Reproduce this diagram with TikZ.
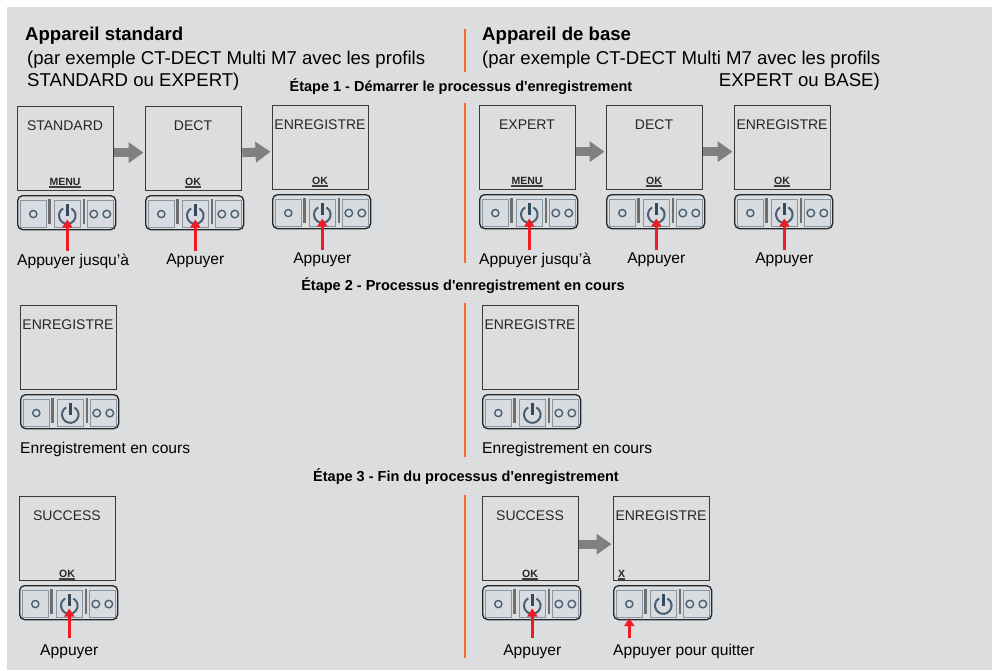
\documentclass[tikz,border=0pt]{standalone}
\usepackage{fontspec}
\setmainfont{Liberation Sans}
\usetikzlibrary{arrows.meta,calc}
\definecolor{bg}{HTML}{DCDDDF}
\definecolor{frame}{HTML}{3A3A3A}
\definecolor{btnborder}{HTML}{8796A3}
\definecolor{btnfill}{HTML}{D8DCE0}
\definecolor{sepcol}{HTML}{6E6E6E}
\definecolor{icon}{HTML}{4A6072}
\definecolor{iconbar}{HTML}{344B5E}
\definecolor{redarr}{HTML}{ED1C24}
\definecolor{grayarr}{HTML}{808080}
\definecolor{orangeline}{HTML}{F26B2A}
\tikzset{
 screenbox/.style={draw=frame, line width=1.3pt, fill=bg, minimum width=96pt, minimum height=84pt, inner sep=0pt, anchor=north west},
 barbox/.style={draw=black!85, line width=1.3pt, fill=bg, rounded corners=5pt, minimum width=98pt, minimum height=34pt, inner sep=0pt, anchor=north west},
 btnbox/.style={draw=btnborder, line width=1.1pt, fill=btnfill, minimum width=26.5pt, minimum height=27pt, inner sep=0pt, anchor=north west},
 scrtext/.style={font=\fontsize{14}{16}\selectfont, text=black!85, inner sep=0pt, anchor=base},
 keytext/.style={font=\fontsize{10.5}{12}\selectfont\bfseries, text=black!85, inner sep=0pt, anchor=base},
 lbl/.style={font=\fontsize{15.6}{18}\selectfont, inner sep=0pt, anchor=base},
 lblw/.style={lbl, anchor=base west},
 titlebold/.style={font=\fontsize{18.6}{22}\selectfont\bfseries, inner sep=0pt, anchor=base west},
 subtitle/.style={font=\fontsize{18.6}{22}\selectfont, inner sep=0pt, anchor=base west},
 steptitle/.style={font=\fontsize{14.5}{17}\selectfont\bfseries, inner sep=0pt, anchor=base},
 redarrow/.style={draw=redarr, line width=2.8pt, -{Triangle[length=8pt,width=10pt]}},
 grayarrow/.style={draw=grayarr, line width=9pt, -{Triangle[length=15pt,width=20pt]}, shorten >=1.5pt},
 orangesep/.style={draw=orangeline, line width=2pt},
}
\newcommand\device[4]{%
  \node[screenbox] (#1s) at (#2,#3) {};
  \node[scrtext] (#1t) at ({#2+48},{#3+24}) {#4};
  \node[barbox] (#1b) at (#2,{#3+89}) {};
  \node[btnbox] (#1l) at ({#2+2.5},{#3+94}) {};
  \node[btnbox] (#1m) at ({#2+36.5},{#3+94}) {};
  \node[btnbox] (#1r) at ({#2+69.5},{#3+94}) {};
  \fill[sepcol] ({#2+31},{#3+93}) rectangle ({#2+34},{#3+118});
  \fill[sepcol] ({#2+65.5},{#3+93}) rectangle ({#2+68},{#3+118});
  \draw[icon, line width=1.4pt] (#1l.center) circle (3.6pt);
  \draw[icon, line width=1.4pt] ([xshift=-6.5pt]#1r.center) circle (3.8pt);
  \draw[icon, line width=1.4pt] ([xshift=6.5pt]#1r.center) circle (3.8pt);
  \draw[icon, line width=2pt] ([yshift=-1.5pt]#1m.center) ++(120:8.3pt) arc[start angle=120, end angle=420, radius=8.3pt];
  \draw[iconbar, line width=3.2pt] ([yshift=-1.5pt]#1m.center) -- ([yshift=10.5pt]#1m.center);
}
\newcommand\softkey[4]{%
  \node[keytext] (#1) at (#2,#3) {#4};
  \draw[line width=1.5pt, black!75] ([yshift=-2pt]#1.base west) -- ([yshift=-2pt]#1.base east);
}
\begin{document}
\begin{tikzpicture}[x=1pt,y=-1pt]
\useasboundingbox (0,0) rectangle (992,670);
\fill[bg] (7,7) rectangle (992,670);
% headers
\node[titlebold] (h1) at (25,40.7) {Appareil standard};
\node[subtitle] (h1a) at (27,64.7) {(par exemple CT-DECT Multi M7 avec les profils};
\node[subtitle] (h1b) at (27,86) {STANDARD ou EXPERT)};
\node[titlebold] (h2) at (482,40.7) {Appareil de base};
\node[subtitle] (h2a) at (482,64.7) {(par exemple CT-DECT Multi M7 avec les profils};
\node[subtitle, anchor=base east] (h2b) at (880,86) {EXPERT ou BASE)};
\node[steptitle] (e1) at (461,91) {Étape 1 - Démarrer le processus d\textquotesingle enregistrement};
\node[steptitle] (e2) at (463,290) {Étape 2 - Processus d\textquotesingle enregistrement en cours};
\node[steptitle] (e3) at (466,481) {Étape 3 - Fin du processus d\textquotesingle enregistrement};
% separators
\draw[orangesep] (465,29) -- (465,72);
\draw[orangesep] (465,103) -- (465,263);
\draw[orangesep] (465,303) -- (465,457);
\draw[orangesep] (465,495) -- (465,658);
% step 1 left
\device{A1}{17}{106}{STANDARD}
\device{A2}{145}{106}{DECT}
\device{A3}{272}{105}{ENREGISTRE}
\softkey{A1k}{65}{185}{MENU}
\softkey{A2k}{193}{185}{OK}
\softkey{A3k}{320}{184}{OK}
\draw[grayarrow] ([yshift=-4pt]A1s.east) -- ([yshift=-4pt]A2s.west);
\draw[grayarrow] ([yshift=-4pt]A2s.east) -- ([yshift=-4pt]A3s.west);
% step 1 right
\device{B1}{479}{105}{EXPERT}
\device{B2}{606}{105}{DECT}
\device{B3}{734}{105}{ENREGISTRE}
\softkey{B1k}{527}{184}{MENU}
\softkey{B2k}{654}{184}{OK}
\softkey{B3k}{782}{184}{OK}
\draw[grayarrow] ([yshift=-4pt]B1s.east) -- ([yshift=-4pt]B2s.west);
\draw[grayarrow] ([yshift=-4pt]B2s.east) -- ([yshift=-4pt]B3s.west);
% red arrows step 1
\foreach \d in {A1,A2,A3,B1,B2,B3}{
  \coordinate (\d tail) at ([yshift=-36.5pt]\d m.center);
  \draw[redarrow] (\d tail) -- ([yshift=-5.5pt]\d m.center);
}
\node[lblw] (A1x) at ([yshift=-74pt]A1s.south west) {Appuyer jusqu’à};
\node[lbl] (A2x) at ([yshift=-50.5pt]A2m.center) {Appuyer};
\node[lbl] (A3x) at ([yshift=-50.5pt]A3m.center) {Appuyer};
\node[lblw] (B1x) at ([yshift=-74pt]B1s.south west) {Appuyer jusqu’à};
\node[lbl] (B2x) at ([yshift=-50.5pt]B2m.center) {Appuyer};
\node[lbl] (B3x) at ([yshift=-50.5pt]B3m.center) {Appuyer};
% step 2
\device{C1}{20}{305}{ENREGISTRE}
\device{D1}{482}{305}{ENREGISTRE}
\node[lblw] (C1x) at ([yshift=-63pt]C1s.south west) {Enregistrement en cours};
\node[lblw] (D1x) at ([yshift=-63pt]D1s.south west) {Enregistrement en cours};
% step 3
\device{E1}{19}{496}{SUCCESS}
\device{F1}{482}{496}{SUCCESS}
\device{F2}{613}{496}{ENREGISTRE}
\softkey{E1k}{67}{577}{OK}
\softkey{F1k}{530}{577}{OK}
\node[keytext, anchor=base west] (F2k) at (618,577) {X};
\draw[line width=1.5pt, black!75] ([yshift=-2pt]F2k.base west) -- ([yshift=-2pt]F2k.base east);
\draw[grayarrow] ([yshift=-5.5pt]F1s.east) -- ([yshift=-5.5pt]F2s.west);
\foreach \d in {E1,F1}{
  \coordinate (\d tail) at ([yshift=-34pt]\d m.center);
  \draw[redarrow] (\d tail) -- ([yshift=-4.5pt]\d m.center);
}
\coordinate (F2tail) at ([yshift=-20pt]F2l.south);
\draw[redarrow] (F2tail) -- (F2l.south);
\node[lbl] (E1x) at ([yshift=-51pt]E1m.center) {Appuyer};
\node[lbl] (F1x) at ([yshift=-51pt]F1m.center) {Appuyer};
\node[lblw] (F2x) at ([yshift=-74pt]F2s.south west) {Appuyer pour quitter};
\end{tikzpicture}
\end{document}
